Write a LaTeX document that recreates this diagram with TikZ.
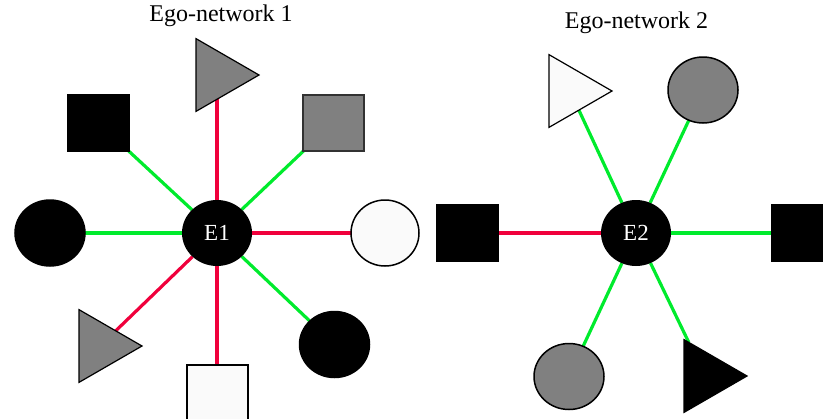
\documentclass[tikz,border=0pt]{standalone}
\usepackage{fontspec}
\setmainfont{Liberation Serif}
\usetikzlibrary{shapes.geometric,backgrounds}
\definecolor{egreen}{RGB}{0,235,45}
\definecolor{ered}{RGB}{240,0,60}
\definecolor{mgray}{RGB}{128,128,128}
\definecolor{wfill}{RGB}{250,250,250}
\definecolor{dgray}{RGB}{50,50,50}
\begin{document}
\begin{tikzpicture}[x=0.5pt,y=-0.5pt,
  circ/.style={ellipse, minimum width=35pt, minimum height=33pt, inner sep=0pt, outer sep=0pt, draw=black, line width=0.75pt},
  sq/.style={rectangle, minimum width=30.5pt, minimum height=28pt, inner sep=0pt, outer sep=0pt, line width=0.75pt},
  tri/.style={regular polygon, regular polygon sides=3, regular polygon rotate=-90, minimum size=42pt, inner sep=0pt, outer sep=0pt, draw=black, line width=0.6pt},
  ego/.style={ellipse, fill=black, minimum width=35pt, minimum height=33pt, inner sep=0pt, outer sep=0pt, text=white, font=\fontsize{11.5}{13}\selectfont},
  title/.style={font=\fontsize{12}{14}\selectfont, inner sep=0pt},
  posedge/.style={draw=egreen, line width=1.6pt},
  negedge/.style={draw=ered, line width=1.6pt}]
\useasboundingbox (0,0) rectangle (823,418);
% titles
\node[title] (title1) at (221,16) {Ego-network 1};
\node[title] (title2) at (636.5,23) {Ego-network 2};
% ego network 1
\node[ego] (E1) at (217,233) {E1};
\node[tri, fill=mgray] (a1) at (217,75) {};
\node[sq, fill=black, draw=black] (a2) at (98.5,123) {};
\node[sq, fill=mgray, draw=dgray, line width=1pt] (a3) at (333,123) {};
\node[circ, fill=black] (a4) at (50,233) {};
\node[circ, fill=wfill, minimum width=34pt] (a5) at (385,233) {};
\node[tri, fill=mgray] (a6) at (100,346) {};
\node[sq, fill=wfill, draw=black, line width=1pt] (a7) at (217,393) {};
\node[circ, fill=black] (a8) at (334.5,344.5) {};
% ego network 2
\node[ego] (E2) at (636,233) {E2};
\node[tri, fill=wfill] (b1) at (570,91) {};
\node[circ, fill=mgray] (b2) at (703,90) {};
\node[sq, fill=black, draw=black] (b3) at (467.5,233) {};
\node[sq, fill=black, draw=black] (b4) at (802.5,233) {};
\node[circ, fill=mgray] (b5) at (569,376.5) {};
\node[tri, fill=black] (b6) at (705,376) {};
% edges
\begin{scope}[on background layer]
\draw[negedge] (E1) -- (a1);
\draw[posedge] (E1) -- (a2);
\draw[posedge] (E1) -- (a3);
\draw[posedge] (E1) -- (a4);
\draw[negedge] (E1) -- (a5);
\draw[negedge] (E1) -- (a6);
\draw[negedge] (E1) -- (a7);
\draw[posedge] (E1) -- (a8);
\draw[posedge] (E2) -- (b1);
\draw[posedge] (E2) -- (b2);
\draw[negedge] (E2) -- (b3);
\draw[posedge] (E2) -- (b4);
\draw[posedge] (E2) -- (b5);
\draw[posedge] (E2) -- (b6);
\end{scope}
\end{tikzpicture}
\end{document}
